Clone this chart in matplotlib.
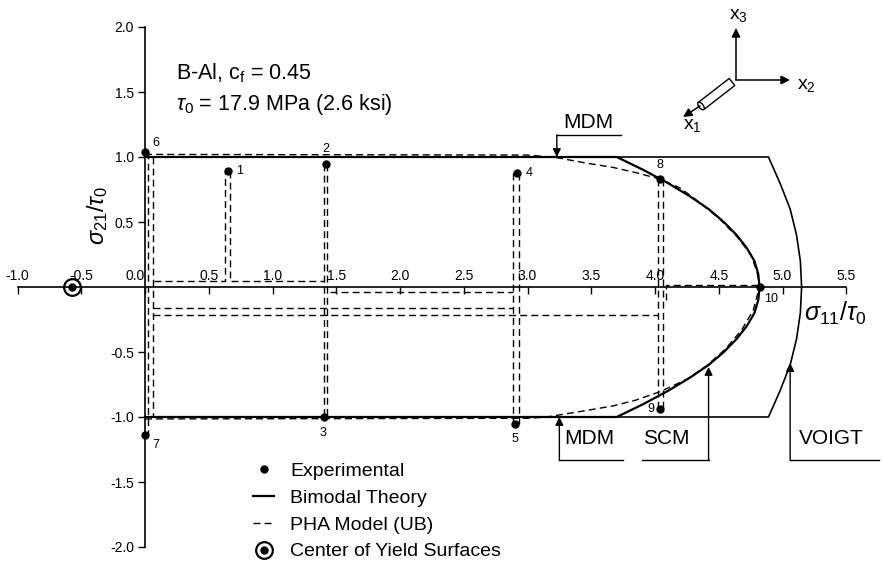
import matplotlib
matplotlib.use("Agg")
from matplotlib import pyplot as plt
from matplotlib.patches import Polygon
from matplotlib.legend_handler import HandlerTuple
import numpy as np


W, H = 883, 579
DPI = 100

plt.rcParams["font.family"] = ["Liberation Sans", "DejaVu Sans"]
plt.rcParams["mathtext.fontset"] = "custom"
plt.rcParams["mathtext.rm"] = "Liberation Sans"
plt.rcParams["mathtext.it"] = "Liberation Sans:italic"

# experimental points (sigma11/tau0, sigma21/tau0)
exp_x = [0.65, 1.42, 1.40, 2.92, 2.90, 0.00, 0.00, 4.04, 4.04, 4.82]
exp_y = [0.89, 0.95, -1.00, 0.88, -1.05, 1.04, -1.14, 0.83, -0.94, 0.00]
exp_lab = ["1", "2", "3", "4", "5", "6", "7", "8", "9", "10"]

# bimodal theory, upper half, lower half is its mirror
bim_x = [0.00, 3.70, 3.91, 4.10, 4.27, 4.42, 4.54, 4.64, 4.72, 4.78, 4.81, 4.82]
bim_y = [1.00, 1.00, 0.90, 0.80, 0.70, 0.60, 0.50, 0.40, 0.30, 0.20, 0.10, 0.00]

# voigt bound
voigt_x = [3.70, 4.89, 4.98, 5.06, 5.11, 5.14, 5.15]
voigt_y = [1.00, 1.00, 0.80, 0.60, 0.40, 0.20, 0.00]

# PHA model (UB)
pha_up_x = [0.0, 3.00, 3.23, 3.45, 3.67, 3.85, 4.04, 4.20, 4.35, 4.50, 4.65, 4.75, 4.80, 4.82]
pha_up_y = [1.02, 1.015, 0.995, 0.955, 0.92, 0.88, 0.83, 0.76, 0.65, 0.53, 0.38, 0.25, 0.12, 0.0]
pha_lo_x = [0.0, 3.00, 3.15, 3.40, 3.67, 3.85, 4.04, 4.25, 4.40, 4.55, 4.68, 4.77, 4.82]
pha_lo_y = [-1.015, -1.01, -1.00, -0.96, -0.915, -0.87, -0.805, -0.71, -0.61, -0.48, -0.33, -0.18, 0.0]

# PHA loading paths (dashed)
path_x = [
    [0.02, 0.02], [0.065, 0.065],
    [0.07, 0.63, 0.63], [0.67, 0.67, 1.40],
    [1.40, 1.40], [1.43, 1.43], [1.45, 2.89],
    [2.89, 2.89], [2.93, 2.93],
    [0.065, 2.89], [0.065, 4.02],
    [4.02, 4.02], [4.06, 4.06], [4.09, 4.09, 4.82],
]
path_y = [
    [1.04, -1.14], [1.00, -1.00],
    [0.045, 0.045, 0.89], [0.89, 0.045, 0.045],
    [0.95, -1.00], [0.95, -1.00], [-0.035, -0.035],
    [0.88, -1.05], [0.88, -1.05],
    [-0.16, -0.16], [-0.215, -0.215],
    [0.83, -0.94], [0.83, -0.94], [-0.10, 0.015, 0.015],
]

center_x, center_y = -0.57, 0.0

xticks = [-1.0, -0.5, 0.0, 0.5, 1.0, 1.5, 2.0, 2.5, 3.0, 3.5, 4.0, 4.5, 5.0, 5.5]
yticks = [-2.0, -1.5, -1.0, -0.5, 0.5, 1.0, 1.5, 2.0]


fig = plt.figure(figsize=(W / DPI, H / DPI), dpi=DPI)
ax = fig.add_axes([0, 0, 1, 1])
ax.set_xlim(-145 / 127.5, (W - 145) / 127.5)
ax.set_ylim((287 - H) / 130, 287 / 130)

for s in ["right", "bottom"]:
    ax.spines[s].set_visible(False)
ax.spines["left"].set_position(("data", 0))
ax.spines["top"].set_position(("data", 0))
ax.spines["left"].set_bounds(-2.0, 2.0)
ax.spines["top"].set_bounds(-1.0, 5.5)
ax.spines["left"].set_linewidth(1.2)
ax.spines["top"].set_linewidth(1.2)
ax.xaxis.tick_top()
ax.set_xticks(xticks)
ax.set_xticklabels(["%.1f" % v for v in xticks])
ax.set_yticks(yticks)
ax.set_yticklabels(["%.1f" % v for v in yticks])
ax.tick_params(axis="x", direction="in", length=5, width=1, labelsize=10, pad=3)
ax.tick_params(axis="y", direction="out", length=5, width=1, labelsize=10, pad=3)
ax.get_xticklabels()[2].set_ha("right")

# solid curves
xs = bim_x + bim_x[::-1][1:]
ys = bim_y + [-v for v in bim_y[::-1][1:]]
h_bim, = ax.plot(xs, ys, color="k", lw=1.6)
vx = voigt_x + voigt_x[::-1][1:]
vy = voigt_y + [-v for v in voigt_y[::-1][1:]]
ax.plot(vx, vy, color="k", lw=1.2)

# dashed PHA
dash = dict(color="k", lw=1.0, ls=(0, (5, 3)))
h_pha, = ax.plot(pha_up_x, pha_up_y, **dash)
ax.plot(pha_lo_x, pha_lo_y, **dash)
for px_, py_ in zip(path_x, path_y):
    ax.plot(px_, py_, **dash)

# experimental points
h_exp, = ax.plot(exp_x, exp_y, "o", color="k", ms=5, ls="none")
offs = {"1": (6, 0, "left", "center"), "2": (0, 6, "center", "bottom"),
        "3": (0, -7, "center", "top"), "4": (6, 0, "left", "center"),
        "5": (0, -7, "center", "top"), "6": (5, 2, "left", "bottom"),
        "7": (5, -3, "left", "top"), "8": (0, 6, "center", "bottom"),
        "9": (-4, 0, "right", "center"), "10": (3, -4, "left", "top")}
for x, y, lab in zip(exp_x, exp_y, exp_lab):
    dx, dy, ha, va = offs[lab]
    ax.annotate(lab, (x, y), xytext=(dx, dy), textcoords="offset points",
                ha=ha, va=va, fontsize=9)

# center of yield surfaces
h_ring, = ax.plot(center_x, center_y, "o", mfc="white", mec="k", ms=12, mew=1.6)
h_dot, = ax.plot(center_x, center_y, "o", color="k", ms=5)

# labels
ax.text(0.24, 1.595, "B-Al, c$_\\mathregular{f}$ = 0.45", fontsize=15.5)
ax.text(0.24, 1.365, "$\\tau_0$ = 17.9 MPa (2.6 ksi)", fontsize=15.5)
ax.text(-0.37, 0.55, "$\\sigma_{21}/\\tau_0$", fontsize=17, rotation=90,
        ha="center", va="center")
ax.text(5.41, -0.2, "$\\sigma_{11}/\\tau_0$", fontsize=18, ha="center", va="center")

# model callouts
arw = dict(arrowstyle="-|>", color="k", lw=1.0, mutation_scale=12, shrinkA=0, shrinkB=0)
ax.annotate("", xy=(3.23, 1.0), xytext=(3.23, 1.17), arrowprops=arw)
ax.plot([3.23, 3.73], [1.17, 1.17], color="k", lw=1.0)
ax.text(3.48, 1.19, "MDM", fontsize=15, ha="center", va="bottom")

ax.annotate("", xy=(3.25, -1.0), xytext=(3.25, -1.33), arrowprops=arw)
ax.plot([3.25, 3.75], [-1.33, -1.33], color="k", lw=1.0)
ax.text(3.29, -1.165, "MDM", fontsize=15, ha="left", va="center")

ax.annotate("", xy=(4.42, -0.615), xytext=(4.42, -1.33), arrowprops=arw)
ax.plot([3.9, 4.42], [-1.33, -1.33], color="k", lw=1.0)
ax.text(3.91, -1.165, "SCM", fontsize=15, ha="left", va="center")

ax.annotate("", xy=(5.06, -0.585), xytext=(5.06, -1.33), arrowprops=arw)
ax.plot([5.06, 5.76], [-1.33, -1.33], color="k", lw=1.0)
ax.text(5.13, -1.165, "VOIGT", fontsize=15, ha="left", va="center")

# legend
leg = ax.legend([h_exp, h_bim, h_pha, (h_ring, h_dot)],
                ["Experimental", "Bimodal Theory", "PHA Model (UB)", "Center of Yield Surfaces"],
                handler_map={tuple: HandlerTuple(ndivide=1)},
                loc="upper left", bbox_to_anchor=(253 / W, 1 - 462 / H),
                frameon=False, fontsize=14, borderpad=0, borderaxespad=0,
                handlelength=1.1, handletextpad=0.8, labelspacing=0.48)

# coordinate system sketch (pixel space overlay)
ov = fig.add_axes([0, 0, 1, 1])
ov.set_xlim(0, W)
ov.set_ylim(H, 0)
ov.axis("off")
sk = dict(arrowstyle="-|>", color="k", lw=1.1, mutation_scale=13, shrinkA=0, shrinkB=0)
ov.annotate("", xy=(736, 28), xytext=(736, 80), arrowprops=sk)
ov.annotate("", xy=(790, 80), xytext=(736, 80), arrowprops=sk)
ov.annotate("", xy=(683, 117), xytext=(700, 106), arrowprops=sk)
# fibre: a small tube along x1
d = np.array([-0.786, 0.619])
n = np.array([0.619, 0.786])
p0 = np.array([732.0, 82.0])
p1 = np.array([701.0, 106.0])
r = 4.5
tube = [p0 - n * r, p1 - n * r, p1 + n * r, p0 + n * r]
ov.add_patch(Polygon(tube, closed=True, fc="white", ec="k", lw=1.0))
t = np.linspace(0, 2 * np.pi, 40)
ring = [p1 + n * r * np.cos(a) + d * 2.2 * np.sin(a) for a in t]
ov.add_patch(Polygon(ring, closed=True, fc="white", ec="k", lw=1.0))
ov.text(738, 16, "x$_3$", fontsize=14, ha="center", va="center")
ov.text(806, 86, "x$_2$", fontsize=14, ha="center", va="center")
ov.text(692, 125, "x$_1$", fontsize=14, ha="center", va="center")

plt.savefig("out.png", dpi=DPI)
